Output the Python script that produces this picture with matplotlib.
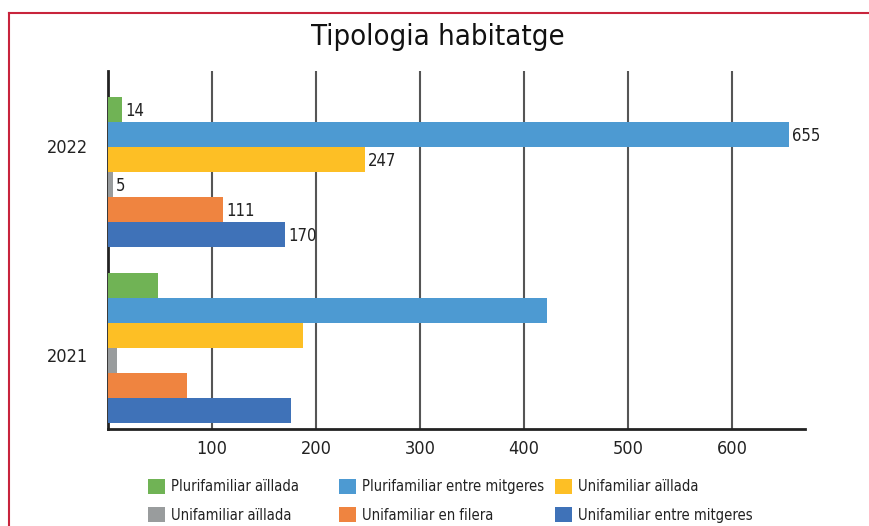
import numpy as np
import matplotlib
matplotlib.use("Agg")
import matplotlib.pyplot as plt
from matplotlib.lines import Line2D

plt.rcParams['font.family'] = ['DejaVu Sans']
plt.rcParams['font.stretch'] = 'condensed'

years = ['2021', '2022']
series = ['Plurifamiliar aïllada', 'Plurifamiliar entre mitgeres', 'Unifamiliar aïllada',
          'Unifamiliar aïllada', 'Unifamiliar en filera', 'Unifamiliar entre mitgeres']
plurifamiliar_aillada = [48, 14]
plurifamiliar_mitgeres = [422, 655]
unifamiliar_aillada = [188, 247]
unifamiliar_aillada_2 = [9, 5]
unifamiliar_filera = [76, 111]
unifamiliar_mitgeres = [176, 170]
colors = ['#70B355', '#4D9AD2', '#FDBF25', '#999C9D', '#EF8440', '#3F72B8']

values = [plurifamiliar_aillada, plurifamiliar_mitgeres, unifamiliar_aillada,
          unifamiliar_aillada_2, unifamiliar_filera, unifamiliar_mitgeres]

fig = plt.figure(figsize=(8.7, 5.26), dpi=100)
ax = fig.add_axes([0.124, 0.184, 0.801, 0.681])

h = 0.142
y = np.arange(len(years))
for i, (vals, c) in enumerate(zip(values, colors)):
    pos = y + (2.5 - i) * h
    ax.barh(pos, vals, height=h, color=c, label=series[i], zorder=3)
    # only 2022 has value labels
    ax.text(vals[1] + 3, pos[1] - 0.01, str(vals[1]), va='center', ha='left',
            fontsize=12, color='#222222')

ax.set_xlim(0, 670)
ax.set_ylim(-0.46, 1.574)
ax.set_xticks([100, 200, 300, 400, 500, 600])
# excel puts the year labels a bit off the group centre
ax.set_yticks([-0.04, 1.148])
ax.set_yticklabels(years)
ax.tick_params(axis='both', length=0, labelsize=13, colors='#222222')
ax.tick_params(axis='x', pad=8)
ax.tick_params(axis='y', pad=14)
ax.grid(axis='x', color='#555555', linewidth=1.5, zorder=0)
for s in ['top', 'right']:
    ax.spines[s].set_visible(False)
ax.spines['left'].set_linewidth(2)
ax.spines['bottom'].set_linewidth(2)
ax.spines['left'].set_color('#222222')
ax.spines['bottom'].set_color('#222222')

fig.text(0.503, 0.93, 'Tipologia habitatge', ha='center', va='center',
         fontsize=21, color='#111111')

# red frame
fig.add_artist(Line2D([0.0109, 1.0], [0.975, 0.975], color='#C8243C', lw=1.5,
                      transform=fig.transFigure))
fig.add_artist(Line2D([0.0109, 0.0109], [0.0, 0.975], color='#C8243C', lw=1.5,
                      transform=fig.transFigure))

# legend: one per column so the columns sit where excel put them
handles, labels = ax.get_legend_handles_labels()
col_x = [148 / 870, 339 / 870, 555 / 870]
for j, x0 in enumerate(col_x):
    idx = [j, j + 3]
    fig.legend([handles[k] for k in idx], [labels[k] for k in idx],
               loc='upper left', bbox_to_anchor=(x0, 0.089), bbox_transform=fig.transFigure,
               frameon=False, fontsize=10.5, handlelength=1.15, handleheight=1.15,
               handletextpad=0.4, labelspacing=0.9, borderpad=0, borderaxespad=0,
               labelcolor='#222222')

fig.savefig('out.png', dpi=100)
